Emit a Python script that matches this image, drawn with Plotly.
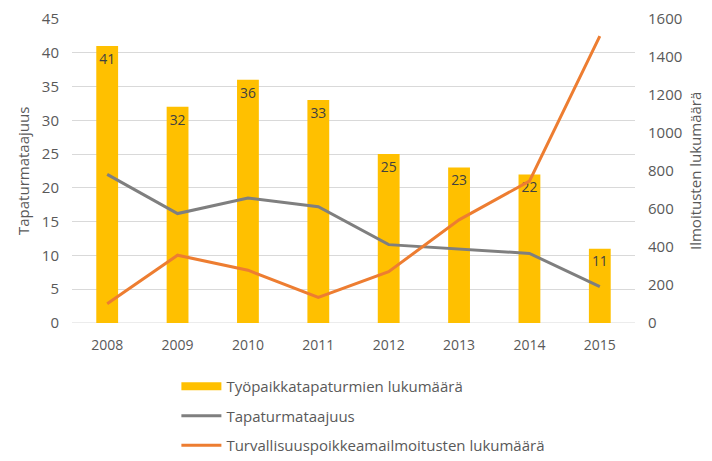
import plotly.graph_objects as go

years = ["2008", "2009", "2010", "2011", "2012", "2013", "2014", "2015"]
accidents = [41, 32, 36, 33, 25, 23, 22, 11]
frequency = [22.0, 16.2, 18.5, 17.2, 11.6, 10.9, 10.3, 5.4]
reports = [101, 357, 278, 135, 270, 543, 747, 1510]

left_ticks = [0, 5, 10, 15, 20, 25, 30, 35, 40, 45]
right_ticks = [0, 200, 400, 600, 800, 1000, 1200, 1400, 1600]

left_title = "Tapaturmataajuus"
right_title = "Ilmoitusten lukumäärä"

FONT = "Open Sans, Lato, DejaVu Sans, sans-serif"
TXT = "#595959"
BAR = "#FFC000"

fig = go.Figure()
fig.add_trace(go.Bar(
    x=years, y=accidents, name="Työpaikkatapaturmien lukumäärä",
    marker=dict(color=BAR, line=dict(width=0)),
    text=[str(v) for v in accidents], textposition="inside",
    insidetextanchor="end", textangle=0,
    textfont=dict(color="#404040", size=15, family=FONT),
    width=0.31, showlegend=False, legendgroup="a",
))
# legend entry for the bars, drawn as a wide flat swatch
fig.add_trace(go.Scatter(
    x=[None], y=[None], name="Työpaikkatapaturmien lukumäärä", mode="lines",
    line=dict(color=BAR, width=8), legendgroup="a",
))
fig.add_trace(go.Scatter(
    x=years, y=frequency, name="Tapaturmataajuus", mode="lines",
    line=dict(color="#7F7F7F", width=3), legendgroup="b",
))
fig.add_trace(go.Scatter(
    x=years, y=reports, name="Turvallisuuspoikkeamailmoitusten lukumäärä",
    mode="lines", line=dict(color="#ED7D31", width=3), yaxis="y2",
    legendgroup="c",
))

fig.update_layout(
    width=712, height=461,
    margin=dict(l=64, r=85, t=11, b=146, autoexpand=False),
    paper_bgcolor="white", plot_bgcolor="white",
    font=dict(family=FONT, size=14, color=TXT),
    showlegend=True,
    legend=dict(orientation="v", xref="container", yref="container",
                x=0.2365, xanchor="left", y=1 - 362 / 461, yanchor="top",
                font=dict(size=15, color=TXT), tracegroupgap=7,
                itemwidth=40, bgcolor="rgba(0,0,0,0)"),
    xaxis=dict(type="category", showgrid=False, showline=False, ticks="",
               ticklabelstandoff=12, tickfont=dict(size=14, color=TXT)),
    yaxis=dict(range=[0, 45], tickvals=left_ticks, showgrid=True,
               gridcolor="#D9D9D9", gridwidth=1, zeroline=False, showline=False,
               ticklabeloverflow="allow",
               ticklabelstandoff=12, tickfont=dict(size=15, color=TXT)),
    yaxis2=dict(range=[0, 1600], tickvals=right_ticks, overlaying="y", side="right",
                showgrid=False, zeroline=False, showline=False,
                ticklabeloverflow="allow",
                ticklabelstandoff=12, tickfont=dict(size=15, color=TXT)),
)
fig.add_annotation(text=left_title, xref="paper", yref="paper", x=0, y=0.5,
                   xanchor="center", yanchor="middle", xshift=-49, textangle=-90,
                   showarrow=False, font=dict(size=15, color=TXT, family=FONT))
fig.add_annotation(text=right_title, xref="paper", yref="paper", x=1, y=0.5,
                   xanchor="center", yanchor="middle", xshift=60, textangle=-90,
                   showarrow=False, font=dict(size=15, color=TXT, family=FONT))
fig.add_shape(type="line", xref="paper", yref="y", x0=0, x1=1, y0=0, y1=0,
              line=dict(color="#D9D9D9", width=1), layer="below")

fig.write_html("out.html")
